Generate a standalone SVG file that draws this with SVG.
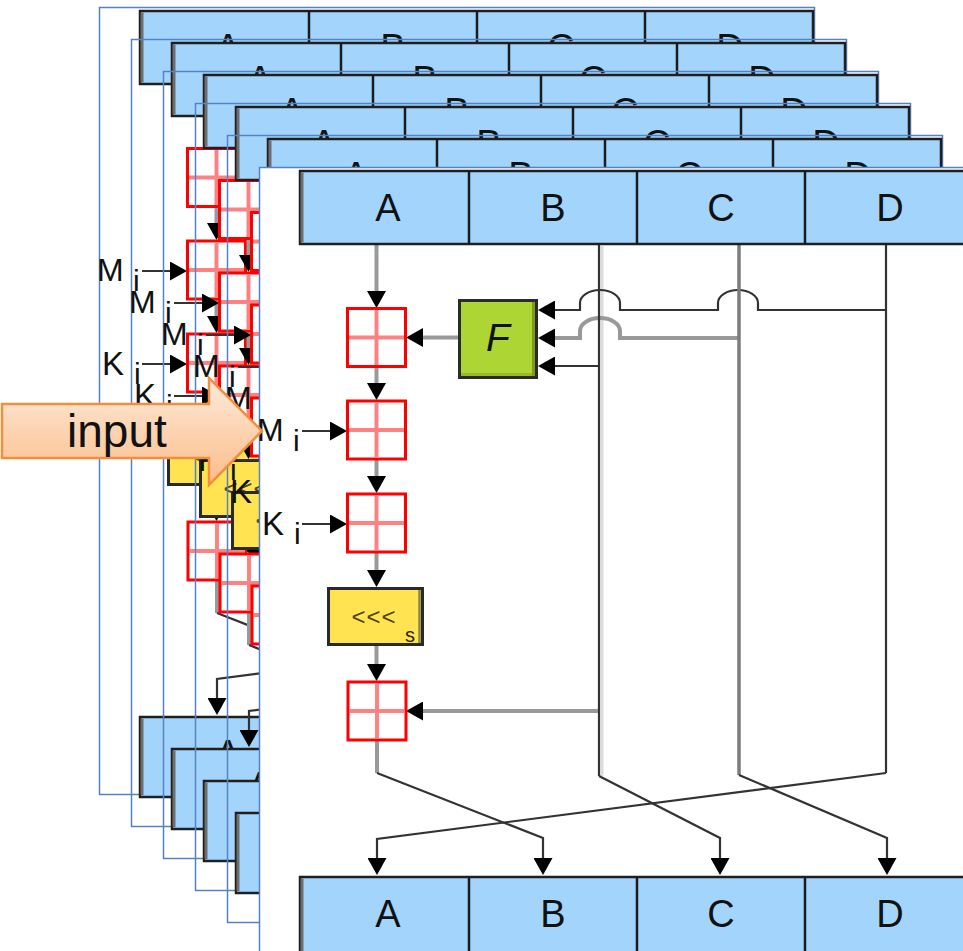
<svg xmlns="http://www.w3.org/2000/svg" xmlns:xlink="http://www.w3.org/1999/xlink" width="963" height="951" viewBox="0 0 963 951">
<style>
.frame{fill:none;stroke:#5583C2;stroke-width:1.5}
.frame.front{fill:#fff}
.reg{fill:#A3D5FC;stroke:#1f1f1f;stroke-width:2.5}
.regshade{stroke:#6e6e6e;stroke-width:3}
.div{stroke:#1a1a1a;stroke-width:2.5}
.regtxt{font-family:"Liberation Sans",Arial,sans-serif;font-size:38px;fill:#111;text-anchor:middle}
.lbl{font-family:"Liberation Sans",Arial,sans-serif;fill:#111}
.add rect{fill:#fff;stroke:#FF0000;stroke-width:3}
.add line{stroke:#FF8282;stroke-width:4}
.wg{fill:none;stroke:#999;stroke-width:4}
.wm{fill:none;stroke:#7c7c7c;stroke-width:3.5}
.wd{fill:none;stroke:#333;stroke-width:2.2}
.wl{fill:none;stroke:#dcdcdc;stroke-width:3}
.arr{marker-end:url(#ah)}
</style>
<defs>
<marker id="ah" viewBox="0 0 17 19" refX="8" refY="9.5" markerWidth="17" markerHeight="19" markerUnits="userSpaceOnUse" orient="auto">
<path d="M0,0 L17,9.5 L0,19 Z" fill="#000"/>
</marker>
<linearGradient id="ig" x1="0" y1="0" x2="0" y2="1">
<stop offset="0" stop-color="#FEEADB"/>
<stop offset="1" stop-color="#FBBD88"/>
</linearGradient>
</defs>

<g id="back-layers">
<g transform="translate(-160,-160)"><rect class="frame" x="259.5" y="167.5" width="715" height="787"/><use href="#round" xlink:href="#round"/></g>
<g transform="translate(-128,-128)"><rect class="frame" x="259.5" y="167.5" width="715" height="787"/><use href="#round" xlink:href="#round"/></g>
<g transform="translate(-96,-96)"><rect class="frame" x="259.5" y="167.5" width="715" height="787"/><use href="#round" xlink:href="#round"/></g>
<g transform="translate(-64,-64)"><rect class="frame" x="259.5" y="167.5" width="715" height="787"/><use href="#round" xlink:href="#round"/></g>
<g transform="translate(-32,-32)"><rect class="frame" x="259.5" y="167.5" width="715" height="787"/><use href="#round" xlink:href="#round"/></g>
</g>

<g id="front-layer">
<rect class="frame front" x="259.5" y="167.5" width="715" height="787"/>
<g id="round">
<g id="connectors">
<path class="wl" d="M602,246 V776"/>
<path class="wg arr" d="M376.5,244 V299"/>
<path class="wg arr" d="M376.5,367 V391"/>
<path class="wg arr" d="M376.5,460 V484"/>
<path class="wg arr" d="M376.5,553 V578"/>
<path class="wg arr" d="M376.5,645 V672"/>
<path class="wg arr" d="M459,337.5 H415"/>
<path class="wg arr" d="M599,711 H415"/>
<path class="wd arr" d="M302,431 H338"/>
<path class="wd arr" d="M302,524 H338"/>
<path class="wd arr" d="M599,366 H547"/>
<path class="wg arr" d="M739,338 H620 V331 A20,13 0 0 0 580,331 V338 H547"/>
<path class="wd arr" d="M886,310 H758 V303 A20,13 0 0 0 718,303 V310 H620 V303 A20,13 0 0 0 580,303 V310 H547"/>
<path class="wd" d="M599,244 V776"/>
<path class="wm" d="M739,244 V775"/>
<path class="wd" d="M886,244 V773"/>
<path class="wg" d="M377,739 V773"/>
<path class="wd arr" d="M377,773 L543,838 V866"/>
<path class="wd arr" d="M599,776 L720,838 V866"/>
<path class="wd arr" d="M739,775 L887,838 V866"/>
<path class="wd arr" d="M886,773 L377,839 V866"/>
</g>
<g id="reg-in">
<rect class="reg" x="300" y="171" width="673" height="73"/>
<line class="regshade" x1="302" y1="172.5" x2="302" y2="242.5"/>
<line class="div" x1="469" y1="171" x2="469" y2="244"/>
<line class="div" x1="637" y1="171" x2="637" y2="244"/>
<line class="div" x1="805" y1="171" x2="805" y2="244"/>
<text class="regtxt" x="388" y="221">A</text>
<text class="regtxt" x="553" y="221">B</text>
<text class="regtxt" x="721" y="221">C</text>
<text class="regtxt" x="890" y="221">D</text>
</g>
<g id="add1" class="add"><rect x="347.5" y="308.5" width="58" height="58"/><line x1="376.5" y1="310" x2="376.5" y2="365"/><line x1="349" y1="337.5" x2="404" y2="337.5"/></g>
<g id="add2" class="add"><rect x="347.5" y="401" width="58" height="58"/><line x1="376.5" y1="402.5" x2="376.5" y2="457.5"/><line x1="349" y1="430" x2="404" y2="430"/></g>
<g id="add3" class="add"><rect x="347.5" y="494" width="58" height="58"/><line x1="376.5" y1="495.5" x2="376.5" y2="550.5"/><line x1="349" y1="523" x2="404" y2="523"/></g>
<g id="add4" class="add"><rect x="348" y="682" width="58" height="58"/><line x1="377" y1="683.5" x2="377" y2="738.5"/><line x1="349.5" y1="711" x2="404.5" y2="711"/></g>
<g id="F">
<rect x="459.5" y="300.5" width="77" height="77" fill="#ADD533" stroke="#2b2b2b" stroke-width="3"/>
<line x1="533.5" y1="302" x2="533.5" y2="376" stroke="#7E9C24" stroke-width="3"/>
<line x1="461" y1="374.5" x2="532" y2="374.5" stroke="#97BA2C" stroke-width="3"/>
<text x="498" y="351" font-family="Liberation Sans,Arial,sans-serif" font-size="39" font-style="italic" fill="#111" text-anchor="middle">F</text>
</g>
<g id="rot">
<rect x="328.5" y="588.5" width="94" height="56" fill="#FFE350" stroke="#2a2a2a" stroke-width="3"/>
<line x1="419.5" y1="590" x2="419.5" y2="643" stroke="#8a8650" stroke-width="2.5"/>
<text x="374" y="625" font-family="Liberation Sans,Arial,sans-serif" font-size="24" fill="#4a4418" text-anchor="middle" letter-spacing="1">&lt;&lt;&lt;</text>
<text x="405" y="642" font-family="Liberation Sans,Arial,sans-serif" font-size="20" fill="#2a2608">s</text>
</g>
<g id="Mi"><text class="lbl" x="257" y="441" font-size="32">M</text><text class="lbl" x="293" y="451" font-size="30">i</text></g>
<g id="Ki"><text class="lbl" x="262" y="535" font-size="33">K</text><text class="lbl" x="294" y="544" font-size="30">i</text></g>
<g id="reg-out">
<rect class="reg" x="300" y="877" width="673" height="80"/>
<line class="regshade" x1="302" y1="878.5" x2="302" y2="955"/>
<line class="div" x1="469" y1="877" x2="469" y2="955"/>
<line class="div" x1="637" y1="877" x2="637" y2="955"/>
<line class="div" x1="805" y1="877" x2="805" y2="955"/>
<text class="regtxt" x="388" y="927">A</text>
<text class="regtxt" x="553" y="927">B</text>
<text class="regtxt" x="721" y="927">C</text>
<text class="regtxt" x="890" y="927">D</text>
</g>
</g>
</g>

<g id="input-arrow">
<path d="M2,404 H209 V378 L262,431 L209,485 V458 H2 Z" fill="url(#ig)" stroke="#F28E3E" stroke-width="2.5" stroke-linejoin="miter"/>
<text x="67" y="447" font-family="Liberation Sans,Arial,sans-serif" font-size="46" fill="#111">input</text>
</g>
</svg>
